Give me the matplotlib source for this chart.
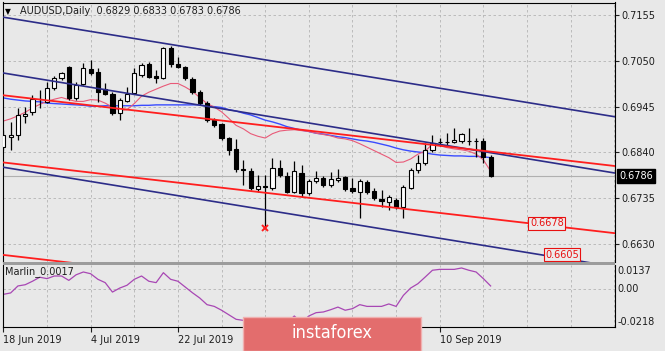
import numpy as np
import matplotlib
matplotlib.use("Agg")
import matplotlib.pyplot as plt
from matplotlib.patches import Rectangle

plt.rcParams.update({"font.family": "DejaVu Sans", "font.size": 7})

# ---- data (daily bars, 18 Jun .. 19 Sep 2019) ----
opens = [0.6852, 0.6875, 0.6880, 0.6924, 0.6933, 0.6962, 0.6956, 0.6988, 0.7011, 0.7036,
         0.6965, 0.6997, 0.7031, 0.7024, 0.6985, 0.6974, 0.6930, 0.6958, 0.6976, 0.7018,
         0.7043, 0.7015, 0.7011, 0.7079, 0.7043, 0.7036, 0.7008, 0.6979, 0.6953, 0.6914,
         0.6905, 0.6873, 0.6848, 0.6802, 0.6798, 0.6756, 0.6762, 0.6758, 0.6804, 0.6786,
         0.6749, 0.6793, 0.6747, 0.6775, 0.6781, 0.6765, 0.6777, 0.6784, 0.6758, 0.6749,
         0.6772, 0.6752, 0.6733, 0.6726, 0.6731, 0.6715, 0.6758, 0.6800, 0.6816, 0.6846,
         0.6864, 0.6864, 0.6864, 0.6866, 0.6866, 0.6867, 0.6867, 0.6829]
highs = [0.6891, 0.6910, 0.6942, 0.6944, 0.6972, 0.6983, 0.7001, 0.7015, 0.7024, 0.7038,
         0.7001, 0.7045, 0.7052, 0.7034, 0.6999, 0.6979, 0.6965, 0.6990, 0.7034, 0.7045,
         0.7047, 0.7029, 0.7082, 0.7084, 0.7059, 0.7038, 0.7013, 0.6983, 0.6958, 0.6919,
         0.6907, 0.6875, 0.6871, 0.6823, 0.6804, 0.6788, 0.6788, 0.6827, 0.6823, 0.6795,
         0.6820, 0.6811, 0.6779, 0.6797, 0.6786, 0.6795, 0.6802, 0.6786, 0.6781, 0.6779,
         0.6777, 0.6758, 0.6754, 0.6742, 0.6735, 0.6765, 0.6804, 0.6834, 0.6862, 0.6880,
         0.6873, 0.6885, 0.6896, 0.6885, 0.6896, 0.6873, 0.6873, 0.6833]
lows = [0.6846, 0.6846, 0.6868, 0.6907, 0.6926, 0.6942, 0.6953, 0.6983, 0.7006, 0.6960,
        0.6960, 0.6995, 0.7018, 0.6956, 0.6972, 0.6926, 0.6914, 0.6956, 0.6976, 0.7013,
        0.7011, 0.6999, 0.7008, 0.7036, 0.7034, 0.7006, 0.6974, 0.6949, 0.6910, 0.6898,
        0.6868, 0.6834, 0.6795, 0.6765, 0.6754, 0.6749, 0.6669, 0.6754, 0.6784, 0.6747,
        0.6747, 0.6738, 0.6742, 0.6770, 0.6761, 0.6761, 0.6772, 0.6752, 0.6747, 0.6690,
        0.6745, 0.6731, 0.6715, 0.6708, 0.6710, 0.6690, 0.6756, 0.6793, 0.6811, 0.6841,
        0.6855, 0.6855, 0.6862, 0.6862, 0.6857, 0.6830, 0.6816, 0.6783]
closes = [0.6880, 0.6880, 0.6926, 0.6928, 0.6962, 0.6963, 0.6988, 0.7011, 0.7022, 0.6965,
          0.6995, 0.7034, 0.7022, 0.6979, 0.6974, 0.6930, 0.6960, 0.6974, 0.7022, 0.7040,
          0.7013, 0.7011, 0.7079, 0.7043, 0.7036, 0.7011, 0.6979, 0.6953, 0.6914, 0.6903,
          0.6873, 0.6846, 0.6802, 0.6800, 0.6758, 0.6763, 0.6760, 0.6804, 0.6788, 0.6749,
          0.6797, 0.6747, 0.6775, 0.6781, 0.6765, 0.6779, 0.6781, 0.6756, 0.6752, 0.6775,
          0.6749, 0.6735, 0.6729, 0.6738, 0.6715, 0.6761, 0.6800, 0.6816, 0.6846, 0.6862,
          0.6864, 0.6865, 0.6868, 0.6882, 0.6867, 0.6866, 0.6830, 0.6786]

ma_slow = [0.6965, 0.6962, 0.6960, 0.6958, 0.6957, 0.6956, 0.6953, 0.6952, 0.6951, 0.6950,
           0.6949, 0.6948, 0.6946, 0.6946, 0.6947, 0.6947, 0.6947, 0.6947, 0.6947, 0.6948,
           0.6948, 0.6949, 0.6949, 0.6949, 0.6949, 0.6949, 0.6949, 0.6949, 0.6946, 0.6945,
           0.6943, 0.6938, 0.6935, 0.6930, 0.6926, 0.6920, 0.6914, 0.6910, 0.6905, 0.6899,
           0.6895, 0.6891, 0.6888, 0.6884, 0.6882, 0.6879, 0.6876, 0.6874, 0.6871, 0.6868,
           0.6866, 0.6863, 0.6859, 0.6855, 0.6850, 0.6846, 0.6843, 0.6841, 0.6839, 0.6836,
           0.6834, 0.6833, 0.6832, 0.6832, 0.6831, 0.6831, 0.6830, 0.6828]
ma_fast = [0.6912, 0.6917, 0.6924, 0.6932, 0.6942, 0.6950, 0.6957, 0.6962, 0.6966, 0.6961,
           0.6957, 0.6957, 0.6961, 0.6960, 0.6953, 0.6944, 0.6936, 0.6938, 0.6952, 0.6969,
           0.6978, 0.6985, 0.6992, 0.6998, 0.6998, 0.6990, 0.6980, 0.6966, 0.6952, 0.6944,
           0.6933, 0.6918, 0.6902, 0.6894, 0.6883, 0.6877, 0.6873, 0.6883, 0.6889, 0.6891,
           0.6892, 0.6890, 0.6888, 0.6884, 0.6881, 0.6878, 0.6873, 0.6871, 0.6867, 0.6860,
           0.6852, 0.6844, 0.6836, 0.6828, 0.6817, 0.6818, 0.6825, 0.6836, 0.6843, 0.6859,
           0.6856, 0.6851, 0.6848, 0.6846, 0.6843, 0.6836, 0.6823, 0.6797]

marlin = [-0.0031, -0.0023, 0.0017, 0.0024, 0.0044, 0.0067, 0.0059, 0.0074, 0.0074, 0.0049,
          0.0081, 0.0097, 0.0087, 0.0055, 0.0036, -0.0018, 0.0005, 0.0021, 0.0055, 0.0074,
          0.0044, 0.0036, 0.0093, 0.0055, 0.0044, 0.0011, -0.0022, -0.0052, -0.0090, -0.0100,
          -0.0122, -0.0148, -0.0174, -0.0180, -0.0200, -0.0212, -0.0218, -0.0185, -0.0180, -0.0195,
          -0.0155, -0.0193, -0.0155, -0.0136, -0.0132, -0.0119, -0.0104, -0.0122, -0.0113, -0.0090,
          -0.0100, -0.0100, -0.0100, -0.0086, -0.0100, -0.0037, 0.0005, 0.0030, 0.0068, 0.0107,
          0.0112, 0.0112, 0.0112, 0.0120, 0.0107, 0.0097, 0.0059, 0.0017]

# labels at bars 36 and 48 sit under the watermark in the reference
date_ticks = [0, 12, 24, 36, 48, 60]
date_labels = ["18 Jun 2019", "4 Jul 2019", "22 Jul 2019", "", "", "10 Sep 2019"]
price_levels = [0.7155, 0.7050, 0.6945, 0.6840, 0.6735, 0.6630]

# trend lines: (bar, price) end points
navy_lines = [((0, 0.7150), (84, 0.6922)),
              ((0, 0.7022), (84, 0.6793)),
              ((0, 0.6806), (84, 0.6578))]
red_lines = [((0, 0.6971), (84, 0.6809)),
             ((0, 0.6817), (84, 0.6655)),
             ((0, 0.6605), (84, 0.6443))]
line_labels = [(72.4, 0.6678), (74.5, 0.6605)]

BG = "#e8e8e8"
GRID = "#b4b4b4"
W, H = 665, 351

fig = plt.figure(figsize=(6.65, 3.51), dpi=100, facecolor=BG)
ax = fig.add_axes([2.5 / W, 1 - 262 / H, 612.5 / W, 259.5 / H], facecolor=BG)
ind = fig.add_axes([2.5 / W, 1 - 327 / H, 612.5 / W, 62 / H], facecolor=BG, sharex=ax)

x = np.arange(len(opens))
xmax = 84.1

# grid
for a in (ax, ind):
    for gx in range(0, 85, 6):
        a.axvline(gx, color=GRID, lw=0.6, ls=(0, (3, 3)), zorder=0)
for lv in price_levels:
    ax.axhline(lv, color=GRID, lw=0.6, ls=(0, (3, 3)), zorder=0)
ind.axhline(0, color=GRID, lw=0.6, ls=(0, (3, 3)), zorder=0)

# bid line
ax.axhline(closes[-1], color="#b0b0b0", lw=0.8, zorder=0.5)

# moving averages
ax.plot(x, ma_slow, color="#3a4cff", lw=1.0, zorder=2)
ax.plot(x, ma_fast, color="#e85a78", lw=0.8, zorder=2)

# candles
o = np.array(opens); c = np.array(closes)
ax.vlines(x, lows, highs, color="black", lw=0.9, zorder=3)
bull = c >= o
ax.bar(x[bull], (c - o)[bull], bottom=o[bull], width=0.58, color="white",
       edgecolor="black", lw=0.8, zorder=3.5)
ax.bar(x[~bull], (o - c)[~bull], bottom=c[~bull], width=0.58, color="black",
       edgecolor="black", lw=0.8, zorder=3.5)

# channel lines
for (b0, p0), (b1, p1) in navy_lines:
    ax.plot([b0 - 1, b1 + 1], [p0 + (p0 - p1) / (b1 - b0), p1 - (p0 - p1) / (b1 - b0)],
            color="#2c2c88", lw=1.2, zorder=4)
for (b0, p0), (b1, p1) in red_lines:
    ax.plot([b0 - 1, b1 + 1], [p0 + (p0 - p1) / (b1 - b0), p1 - (p0 - p1) / (b1 - b0)],
            color="#ff1e1e", lw=1.3, zorder=4)
for bx, py in line_labels:
    t = ax.text(bx, py, f"{py:.4f}", color="#e81010", fontsize=7, ha="left", va="center",
                zorder=6, bbox=dict(boxstyle="square,pad=0.15", fc="#ececec", ec="#e81010", lw=0.8))
    t.set_clip_on(True)

# fractal marker
ax.plot(36, lows[36] - 0.0002, marker="x", color="#ff2020", ms=4.5, mew=1.4, zorder=5)

ax.set_xlim(-0.12, xmax)
ax.set_ylim(0.65888, 0.71837)

# right price axis
ax.yaxis.tick_right()
ax.set_yticks(price_levels)
ax.set_yticklabels([f"{v:.4f}" for v in price_levels])
ax.tick_params(axis="y", length=3, width=0.8, pad=1.5, labelsize=7, colors="#1e1e1e")
ax.tick_params(axis="x", bottom=False, labelbottom=False)
ax.text(1.0065, closes[-1], f"{closes[-1]:.4f}", transform=ax.get_yaxis_transform(),
        color="white", fontsize=7, va="center", ha="left",
        bbox=dict(boxstyle="square,pad=0.2", fc="black", ec="black"))

ax.text(0.004, 0.967, "\u25BC", transform=ax.transAxes, fontsize=5.5, va="center", ha="left")
ax.text(0.0286, 0.967, "AUDUSD,Daily  0.6829 0.6833 0.6783 0.6786", transform=ax.transAxes,
        fontsize=7, va="center", ha="left", color="#1e1e1e")

# indicator panel
ind.plot(x, marlin, color="#a847b4", lw=0.9, zorder=2)
ind.set_ylim(-0.0218, 0.0137)
ind.set_yticks([])
ind.text(0.004, 0.887, f"Marlin_{marlin[-1]:.4f}", transform=ind.transAxes,
         fontsize=7, va="center", ha="left", color="#1e1e1e")
for val, va, dy in [(0.0137, "top", -1), (0.0, "center", 0), (-0.0218, "bottom", 0)]:
    lab = f"{val:.4f}" if val != 0 else "0.00"
    ind.annotate(lab, (1.0, val), xycoords=ind.get_yaxis_transform(), xytext=(2, dy),
                 textcoords="offset points", fontsize=7, va=va, ha="left", color="#1e1e1e",
                 annotation_clip=False)

ind.set_xticks(date_ticks)
ind.set_xticklabels(date_labels)
ind.tick_params(axis="x", length=3.5, width=0.8, pad=2.5, labelsize=7, colors="#1e1e1e")
for lab in ind.get_xticklabels():
    lab.set_ha("left")

for a in (ax, ind):
    for s in a.spines.values():
        s.set_color("black")
        s.set_linewidth(0.8)
ax.spines["bottom"].set_visible(False)
ind.spines["top"].set_visible(False)

# panel separator
fig.patches.append(Rectangle((2.5 / W, 1 - 265 / H), 612.5 / W, 3 / H, transform=fig.transFigure,
                             fc="#9c9c9c", ec="none", zorder=5))

# watermark logo
fig.patches.append(Rectangle((243 / W, 0), 178 / W, 34 / H, transform=fig.transFigure,
                             fc="#e36d6d", ec="#f0b0b0", lw=1, zorder=10))
fig.text(332 / W, 1 - 333 / H, "instaforex", color="white", fontsize=13, ha="center", va="center",
         family=["DejaVu Sans Condensed", "DejaVu Sans"], fontstretch="condensed", zorder=11)

fig.savefig("out.png", dpi=100, facecolor=BG)
